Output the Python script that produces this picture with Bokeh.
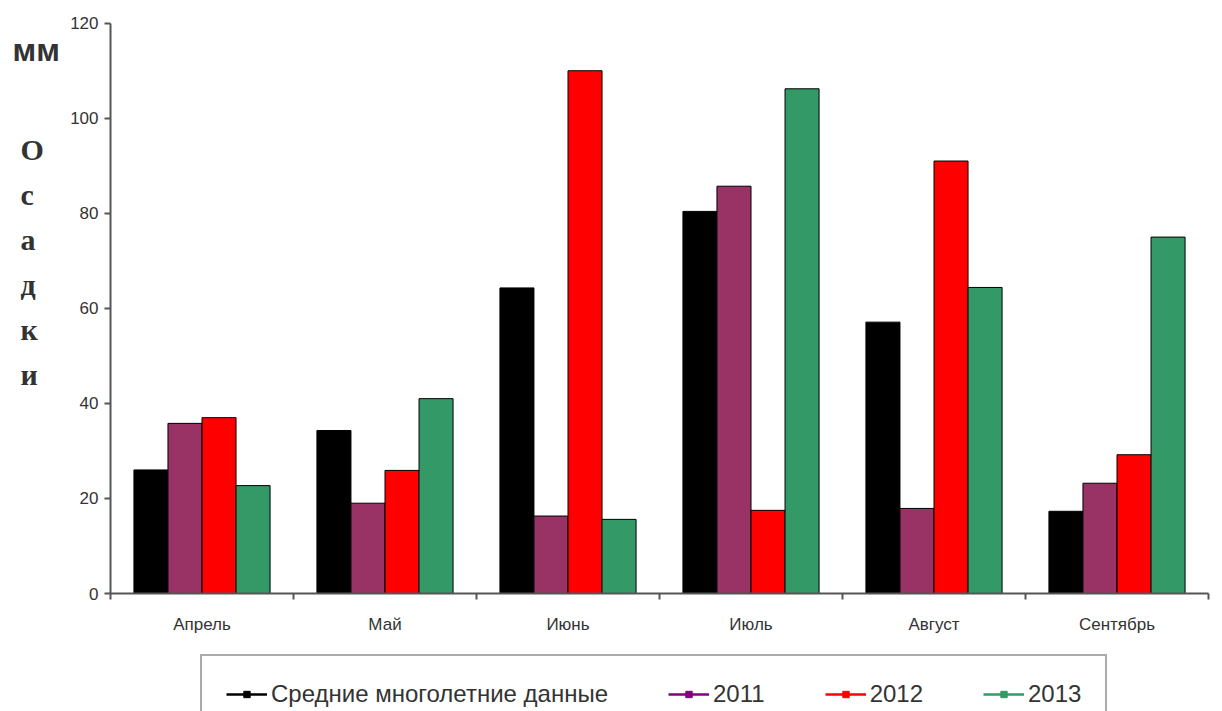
import numpy as np
from bokeh.plotting import figure
from bokeh.models import FixedTicker, Label, Legend, LegendItem, Range1d, ColumnDataSource
from bokeh.embed import file_html
from bokeh.resources import INLINE

# ---- data ----
months = ["Апрель", "Май", "Июнь", "Июль", "Август", "Сентябрь"]
series_names = ["Средние многолетние данные", "2011", "2012", "2013"]
avg_long_term = [26.0, 34.3, 64.3, 80.4, 57.1, 17.3]
y2011 = [35.8, 19.0, 16.3, 85.7, 17.9, 23.2]
y2012 = [37.0, 25.9, 110.0, 17.5, 91.0, 29.2]
y2013 = [22.7, 41.0, 15.6, 106.2, 64.4, 75.0]
y_ticks = [0, 20, 40, 60, 80, 100, 120]
y_label_top = "мм"
y_label_letters = ["О", "с", "а", "д", "к", "и"]

series = [avg_long_term, y2011, y2012, y2013]
colors = ["#000000", "#993366", "#FF0000", "#339966"]
legend_colors = ["#000000", "#800080", "#FF0000", "#339966"]

W, H = 1222, 711
x0_px, y0_px = 110, 593          # screen position of the origin
px_per_cat, px_per_unit = 183.0, 570.3 / 120.0

x_range = Range1d(-x0_px / px_per_cat, (W - x0_px) / px_per_cat)
y_range = Range1d(-(H - y0_px) / px_per_unit, y0_px / px_per_unit)

p = figure(width=W, height=H, x_range=x_range, y_range=y_range,
           output_backend="svg", toolbar_location=None,
           min_border=0, min_border_left=0, min_border_right=0,
           min_border_top=0, min_border_bottom=0)
p.title.visible = False
p.outline_line_color = None
p.grid.visible = False
p.background_fill_color = "white"
p.border_fill_color = "white"

bw = 0.186
idx = np.arange(len(months))
for k, (vals, c) in enumerate(zip(series, colors)):
    src = ColumnDataSource(dict(x=idx + 0.5 + (k - 1.5) * bw, top=vals))
    p.vbar(x="x", top="top", width=bw, bottom=0, source=src,
           fill_color=c, line_color="black", line_width=1)

# axes fixed at the data origin
xa, ya = p.xaxis[0], p.yaxis[0]
xa.fixed_location = 0
ya.fixed_location = 0
xa.bounds = (0, len(months))
ya.bounds = (y_ticks[0], y_ticks[-1])

xa.ticker = FixedTicker(ticks=list(idx + 0.5), minor_ticks=list(range(len(months) + 1)))
xa.major_label_overrides = {float(i + 0.5): m for i, m in enumerate(months)}
xa.major_tick_out = 0
xa.major_tick_in = 0
xa.minor_tick_out = 6
xa.minor_tick_in = 0
xa.major_label_standoff = 15

ya.ticker = FixedTicker(ticks=y_ticks)
ya.major_tick_out = 6
ya.major_tick_in = 0
ya.minor_tick_line_color = None
ya.major_label_standoff = 6

for ax in (xa, ya):
    ax.axis_line_color = "#555555"
    ax.axis_line_width = 2
    ax.major_tick_line_color = "#555555"
    ax.major_tick_line_width = 2
    ax.minor_tick_line_width = 2
    ax.major_label_text_font = "Liberation Sans"
    ax.major_label_text_color = "#333333"
    ax.major_label_text_font_size = "17px"
xa.minor_tick_line_color = "#555555"

# y-axis title: "мм" and the stacked word
p.add_layout(Label(x=12, y=H - 49, x_units="screen", y_units="screen", text=y_label_top,
                   text_font="Liberation Sans", text_font_style="bold", text_font_size="32px",
                   text_color="#333333", text_baseline="alphabetic", text_align="left"))
for i, ch in enumerate(y_label_letters):
    p.add_layout(Label(x=20, y=H - 149 - 45 * i, x_units="screen", y_units="screen", text=ch,
                       text_font="Liberation Serif", text_font_style="bold", text_font_size="30px",
                       text_color="#333333", text_baseline="alphabetic", text_align="left"))

# legend (line + square marker swatches)
items = []
for name, c in zip(series_names, legend_colors):
    src = ColumnDataSource(dict(x=[np.nan], y=[np.nan]))
    lr = p.line(x="x", y="y", source=src, line_color=c, line_width=2.5)
    sr = p.scatter(x="x", y="y", source=src, marker="square", size=6, fill_color=c, line_color=c)
    items.append(LegendItem(label=name, renderers=[lr, sr]))
legend = Legend(items=items, orientation="horizontal", location=(200, H - 734),
                label_text_font="Liberation Sans", label_text_font_size="24px",
                label_text_color="#333333", glyph_width=41, glyph_height=16, label_height=26,
                label_standoff=4, spacing=60, padding=24, margin=0,
                border_line_color="#555555", border_line_width=2,
                background_fill_color="white", background_fill_alpha=1)
p.add_layout(legend, "center")

open("out.html", "w").write(file_html(p, INLINE))
